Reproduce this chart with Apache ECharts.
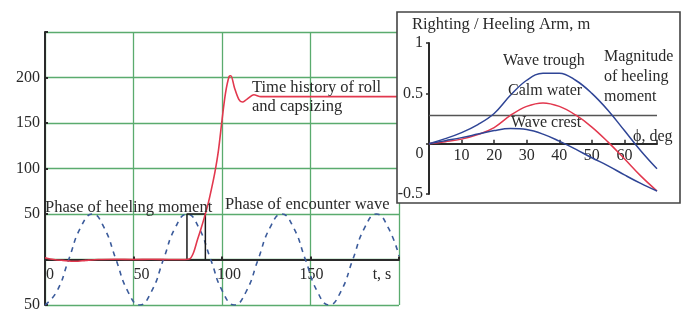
<!DOCTYPE html>
<html>
<head>
<meta charset="utf-8">
<script src="https://cdn.jsdelivr.net/npm/echarts@6/dist/echarts.min.js"></script>
<style>
  html, body { margin: 0; padding: 0; background: #ffffff; }
  #chart { width: 686px; height: 311px; }
</style>
</head>
<body>
<div id="chart"></div>
<script>
// ---------- Main chart data (time history) ----------
const rollTime  = [0, 5, 10, 17, 23, 30, 40, 50, 60, 70, 79, 82, 84, 86, 88, 90, 92, 94, 96, 98, 100, 102, 104, 105, 107, 109.5, 111.5, 114, 118, 122, 130, 200];
const rollAngle = [2, 0, -1, -2, -1, 0, 0.3, 0, 0.3, 0, 0, 1, 8, 21, 33, 46, 60, 77, 96, 120, 153, 183, 201, 202, 189, 176, 173, 176, 181, 179, 179, 179];

const waveTime  = [0, 6.7, 13.4, 20.1, 26.8, 33.4, 40.1, 46.8, 53.5, 60.2, 66.9, 73.6, 80.3, 86.9, 93.6, 100.3, 107, 113.7, 120.4, 127.1, 133.8, 140.4, 147.1, 153.8, 160.5, 167.2, 173.9, 180.6, 187.3, 193.9, 200];
const waveValue = [-50, -35, 0, 35, 50, 35, 0, -35, -50, -35, 0, 35, 50, 35, 0, -35, -50, -35, 0, 35, 50, 35, 0, -35, -50, -35, 0, 35, 50, 35, 4];

const pulseTime  = [80.2, 80.2, 90.6, 90.6];
const pulseValue = [0, 50, 50, 0];

const mainXTicks  = [0, 50, 100, 150, 200];
const mainXLabels = ['0', '50', '100', '150', 't, s'];
const mainYTicks  = [-50, 50, 100, 150, 200];
const mainYLabels = ['50', '50', '100', '150', '200'];

// ---------- Inset data (righting / heeling arm) ----------
const phiDeg     = [0, 5, 10, 15, 20, 25, 30, 35, 40, 45, 50, 55, 60, 65, 70];
const troughArm  = [0, 0.05, 0.11, 0.19, 0.30, 0.48, 0.63, 0.70, 0.70, 0.63, 0.50, 0.33, 0.13, -0.07, -0.25];
const calmArm    = [0, 0.02, 0.045, 0.09, 0.16, 0.28, 0.37, 0.405, 0.37, 0.285, 0.165, 0.015, -0.15, -0.32, -0.47];
const crestArm   = [0, 0.03, 0.06, 0.095, 0.13, 0.15, 0.14, 0.095, 0.025, -0.055, -0.14, -0.22, -0.31, -0.395, -0.47];
const heelPhi    = [0, 70];
const heelArm    = [0.28, 0.28];

const insetXTicks  = [10, 20, 30, 40, 50, 60];
const insetYTicks  = [1, 0.5, -0.5];
const insetYLabels = ['1', '0.5', '-0.5'];

const zip = (a, b) => a.map((v, i) => [v, b[i]]);

const FONT = 'Liberation Serif';
const GREEN = '#5aab6e';
const DARK = '#2a2a2a';
const RED = '#e2384e';
const NAVY = '#2f4596';

// grid geometry
const G0 = { left: 45, top: 32, width: 354, height: 273 };
const G1 = { left: 429, top: 43, width: 228, height: 151 };
const Y0 = { min: -50, max: 250 };
const Y1 = { min: -0.5, max: 1 };
// move x-axes up to value 0 of their y-axes
const off0 = -G0.height * (0 - Y0.min) / (Y0.max - Y0.min);
const off1 = -G1.height * (0 - Y1.min) / (Y1.max - Y1.min);

const xRich = {
  s0: { padding: [0, 0, 0, 10], fontFamily: FONT, fontSize: 16, color: DARK },
  s1: { padding: [0, 0, 0, 16], fontFamily: FONT, fontSize: 16, color: DARK },
  s2: { padding: [0, 0, 0, 14], fontFamily: FONT, fontSize: 16, color: DARK },
  s3: { padding: [0, 0, 0, 2],  fontFamily: FONT, fontSize: 16, color: DARK },
  s4: { padding: [0, 34, 0, 0], fontFamily: FONT, fontSize: 16, color: DARK }
};

const chart = echarts.init(document.getElementById('chart'), null, { renderer: 'canvas' });

chart.setOption({
  animation: false,
  backgroundColor: '#ffffff',
  grid: [
    Object.assign({ outerBoundsMode: 'none', containLabel: false }, G0),
    Object.assign({ outerBoundsMode: 'none', containLabel: false }, G1)
  ],
  xAxis: [
    {
      gridIndex: 0, type: 'value', min: 0, max: 200, interval: 50,
      position: 'bottom', offset: off0,
      axisLine: { onZero: false, lineStyle: { color: DARK, width: 2 } },
      axisTick: { show: true, inside: true, length: 3, lineStyle: { color: DARK, width: 2 } },
      splitLine: { show: true, lineStyle: { color: GREEN, width: 1.3 } },
      axisLabel: {
        margin: 7, align: 'center', fontFamily: FONT, fontSize: 16, color: DARK,
        formatter: v => { const i = mainXTicks.indexOf(v); return i < 0 ? '' : '{s' + i + '|' + mainXLabels[i] + '}'; },
        rich: xRich,
        showMinLabel: true, showMaxLabel: true, hideOverlap: false
      }
    },
    {
      gridIndex: 1, type: 'value', min: 0, max: 70, interval: 10, z: 30,
      position: 'bottom', offset: off1,
      axisLine: { onZero: false, lineStyle: { color: DARK, width: 2 } },
      axisTick: { show: true, inside: true, length: 4, lineStyle: { color: DARK, width: 1.5 } },
      splitLine: { show: false },
      axisLabel: {
        margin: 4, fontFamily: FONT, fontSize: 16, color: DARK,
        formatter: v => insetXTicks.indexOf(v) < 0 ? '' : String(v),
        showMinLabel: true, showMaxLabel: true, hideOverlap: false
      }
    }
  ],
  yAxis: [
    {
      gridIndex: 0, type: 'value', min: Y0.min, max: Y0.max, interval: 50,
      axisLine: { show: true, onZero: false, lineStyle: { color: DARK, width: 2 } },
      axisTick: { show: true, inside: true, length: 3, lineStyle: { color: DARK, width: 2 } },
      splitLine: { show: true, lineStyle: { color: GREEN, width: 1.3 } },
      axisLabel: {
        margin: 5, fontFamily: FONT, fontSize: 16, color: DARK,
        formatter: v => { const i = mainYTicks.indexOf(v); return i < 0 ? '' : mainYLabels[i]; },
        showMinLabel: true, showMaxLabel: true, hideOverlap: false
      }
    },
    {
      gridIndex: 1, type: 'value', min: Y1.min, max: Y1.max, interval: 0.5, z: 30,
      axisLine: { show: true, onZero: false, lineStyle: { color: DARK, width: 2 } },
      axisTick: { show: true, inside: false, length: 3, lineStyle: { color: DARK, width: 1.5 } },
      splitLine: { show: false },
      axisLabel: {
        margin: 6, fontFamily: FONT, fontSize: 16, color: DARK,
        formatter: v => { const i = insetYTicks.indexOf(v); return i < 0 ? '' : insetYLabels[i]; },
        showMinLabel: true, showMaxLabel: true, hideOverlap: false
      }
    }
  ],
  series: [
    {
      name: 'Encounter wave', type: 'line', xAxisIndex: 0, yAxisIndex: 0, z: 2,
      data: zip(waveTime, waveValue), smooth: 0.5, showSymbol: false,
      lineStyle: { color: '#3b5b9b', width: 1.6, type: [5, 5] }
    },
    {
      name: 'Heeling moment phase', type: 'line', xAxisIndex: 0, yAxisIndex: 0, z: 3,
      data: zip(pulseTime, pulseValue), showSymbol: false,
      lineStyle: { color: '#1a1a1a', width: 1.5 }
    },
    {
      name: 'Roll', type: 'line', xAxisIndex: 0, yAxisIndex: 0, z: 4,
      data: zip(rollTime, rollAngle), smooth: 0.3, showSymbol: false,
      lineStyle: { color: RED, width: 1.6 }
    },
    {
      name: 'Heeling arm', type: 'line', xAxisIndex: 1, yAxisIndex: 1, z: 30,
      data: zip(heelPhi, heelArm), showSymbol: false,
      lineStyle: { color: '#555555', width: 1.6 }
    },
    {
      name: 'Wave trough', type: 'line', xAxisIndex: 1, yAxisIndex: 1, z: 31,
      data: zip(phiDeg, troughArm), smooth: 0.4, showSymbol: false,
      lineStyle: { color: NAVY, width: 1.5 }
    },
    {
      name: 'Calm water', type: 'line', xAxisIndex: 1, yAxisIndex: 1, z: 31,
      data: zip(phiDeg, calmArm), smooth: 0.4, showSymbol: false,
      lineStyle: { color: RED, width: 1.5 }
    },
    {
      name: 'Wave crest', type: 'line', xAxisIndex: 1, yAxisIndex: 1, z: 31,
      data: zip(phiDeg, crestArm), smooth: 0.4, showSymbol: false,
      lineStyle: { color: NAVY, width: 1.5 }
    }
  ],
  graphic: [
    { type: 'rect', z: 20, shape: { x: 397, y: 12, width: 283, height: 191 },
      style: { fill: '#ffffff', stroke: '#444444', lineWidth: 1.6 } },
    { type: 'text', z: 10, x: 252, y: 97.5, style: { text: 'Time history of roll\nand capsizing', font: '16.5px ' + FONT, lineHeight: 19, fill: DARK, align: 'left', verticalAlign: 'middle' } },
    { type: 'text', z: 10, x: 45, y: 208, style: { text: 'Phase of heeling moment', font: '16.5px ' + FONT, fill: DARK, align: 'left', verticalAlign: 'middle' } },
    { type: 'text', z: 10, x: 225, y: 205, style: { text: 'Phase of encounter wave', font: '16.5px ' + FONT, fill: DARK, align: 'left', verticalAlign: 'middle' } },
    { type: 'text', z: 40, x: 412, y: 25, style: { text: 'Righting / Heeling Arm, m', font: '16.5px ' + FONT, fill: DARK, align: 'left', verticalAlign: 'middle' } },
    { type: 'text', z: 40, x: 503, y: 61, style: { text: 'Wave trough', font: '16px ' + FONT, fill: DARK, align: 'left', verticalAlign: 'middle' } },
    { type: 'text', z: 40, x: 508, y: 91, style: { text: 'Calm water', font: '16px ' + FONT, fill: DARK, align: 'left', verticalAlign: 'middle' } },
    { type: 'text', z: 40, x: 511, y: 123, style: { text: 'Wave crest', font: '16px ' + FONT, fill: DARK, align: 'left', verticalAlign: 'middle' } },
    { type: 'text', z: 40, x: 604, y: 77, style: { text: 'Magnitude\nof heeling\nmoment', font: '16px ' + FONT, lineHeight: 20, fill: DARK, align: 'left', verticalAlign: 'middle' } },
    { type: 'text', z: 40, x: 633, y: 137, style: { text: 'ϕ, deg', font: '16px ' + FONT, fill: DARK, align: 'left', verticalAlign: 'middle' } },
    { type: 'text', z: 40, x: 419.5, y: 154, style: { text: '0', font: '16px ' + FONT, fill: DARK, align: 'center', verticalAlign: 'middle' } }
  ]
});
</script>
</body>
</html>
